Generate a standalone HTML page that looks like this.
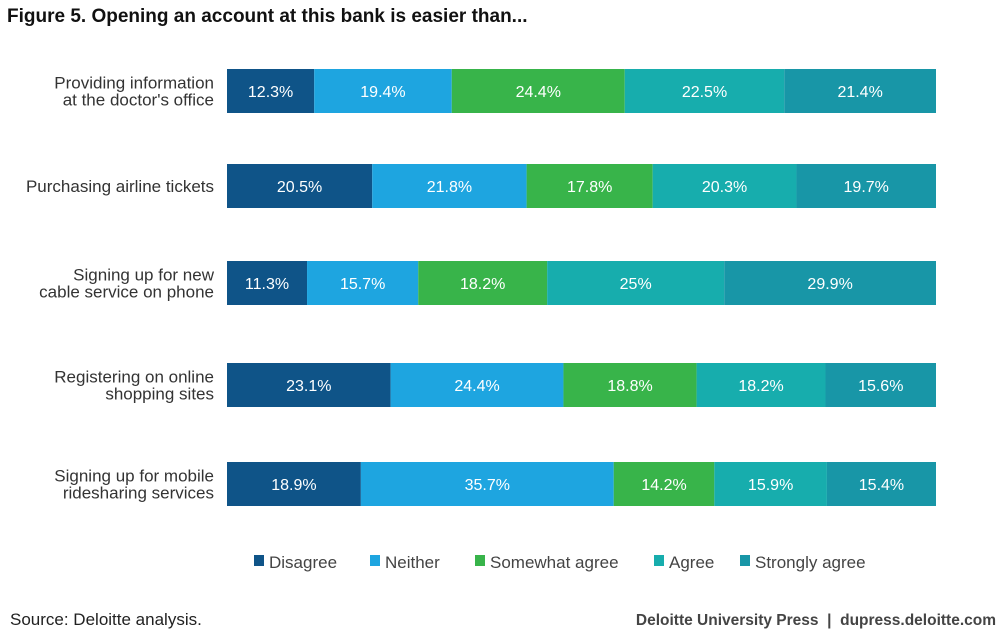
<!DOCTYPE html>
<html><head><meta charset="utf-8"><style>
body{margin:0;background:#fff;font-family:"Liberation Sans",sans-serif;}
#wrap{position:relative;width:1000px;height:635px;overflow:hidden;}
.t{position:absolute;white-space:nowrap;}
</style></head><body>
<div id="wrap">
<div class="t" style="left:7px;top:6px;font-size:19px;font-weight:bold;color:#111;">Figure 5. Opening an account at this bank is easier than...</div>
<svg id="svg" width="1000" height="635" style="position:absolute;left:0;top:0"></svg>
<div class="t" style="left:10px;top:610px;font-size:17px;color:#222;">Source: Deloitte analysis.</div>
<div class="t" style="right:4px;top:612px;font-size:15.5px;font-weight:bold;color:#444;">Deloitte University Press &nbsp;|&nbsp; dupress.deloitte.com</div>
</div>
<script>
const categories=[["Providing information","at the doctor's office"],["Purchasing airline tickets"],["Signing up for new","cable service on phone"],["Registering on online","shopping sites"],["Signing up for mobile","ridesharing services"]];
const seriesNames=["Disagree","Neither","Somewhat agree","Agree","Strongly agree"];
const disagree=[12.3,20.5,11.3,23.1,18.9];
const neither=[19.4,21.8,15.7,24.4,35.7];
const somewhat=[24.4,17.8,18.2,18.8,14.2];
const agree=[22.5,20.3,25,18.2,15.9];
const strongly=[21.4,19.7,29.9,15.6,15.4];
const series=[disagree,neither,somewhat,agree,strongly];
const colors=["#0f5488","#1ea5e0","#38b44a","#17adad","#1896a7"];
const legendX=[254,370,475,654,740];
const NS="http://www.w3.org/2000/svg";
const svg=document.getElementById('svg');
const x0=227,x1=936,rowTop=[69,164,261,363,462],bh=44;
function mk(t,a){const e=document.createElementNS(NS,t);for(const k in a)e.setAttribute(k,a[k]);svg.appendChild(e);return e;}
categories.forEach((c,i)=>{
  const total=series.reduce((s,a)=>s+a[i],0);
  const xs=v=>(x1-x0)*v/total;
  let x=x0;const y=rowTop[i];
  series.forEach((arr,j)=>{
    const w=xs(arr[i]);
    const r=mk('rect',{x:x,y:y,width:w,height:bh,fill:colors[j]});
    
    
    const t=mk('text',{x:x+w/2,y:y+bh/2+6,'text-anchor':'middle',fill:'#fff','font-size':16,'font-family':'Liberation Sans, sans-serif'});
    t.textContent=arr[i]+'%';
    
    
    x+=w;
  });
  const n=c.length;
  c.forEach((line,k)=>{
    const t=mk('text',{x:214,y:y+bh/2+6+(k-(n-1)/2)*17,'text-anchor':'end',fill:'#333','font-size':17,'font-family':'Liberation Sans, sans-serif'});
    t.textContent=line;
    
    
  });
});
seriesNames.forEach((n,j)=>{
  const g=mk('g',{});
  
  
  const r=document.createElementNS(NS,'rect');
  r.setAttribute('x',legendX[j]);r.setAttribute('y',555);r.setAttribute('width',10);r.setAttribute('height',11);r.setAttribute('fill',colors[j]);
  g.appendChild(r);
  const t=document.createElementNS(NS,'text');
  t.setAttribute('x',legendX[j]+15);t.setAttribute('y',568);t.setAttribute('font-size',17);t.setAttribute('fill','#444');t.setAttribute('font-family','Liberation Sans, sans-serif');
  t.textContent=n;g.appendChild(t);
});
</script>
</body></html>
